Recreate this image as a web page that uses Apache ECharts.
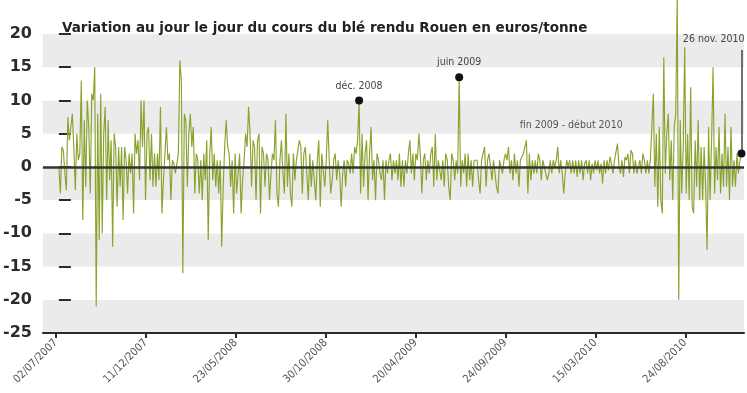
<!DOCTYPE html>
<html><head><meta charset="utf-8">
<script src="https://cdn.jsdelivr.net/npm/echarts@6/dist/echarts.min.js"></script>
<style>html,body{margin:0;padding:0;background:#fff}#c{width:747px;height:393px}</style>
</head><body><div id="c"></div>
<script>
const chartTitle = 'Variation au jour le jour du cours du blé rendu Rouen en euros/tonne';

const part1 = [
  0, -4, 3, 2.5, -1, -3.5, 7.5, 4, 6, 8,
  3, -3.5, 5, 1, 2, 13, -8, 7, -3, 10,
  6, -4, 11, 10, 15, -21, 8, -11, 11, -10,
  5, 9, -5, 7, -2, 4, -12, 5, 3, -6,
  3, -3, 3, -8, 3, 1, -4, 2, -1, 2,
  -7, 5, 2, 4, -2, 10, 3, 10, -5, 5,
  6, -2, 5, -3, 2, -3, 2, -2, 9, -7,
  -2, 2, 6, 1, 2, -5, 1, 0.5, -1, 0.5,
  2, 16, 13, -16, 8, 7, -3, 5, 8, 3,
  6, -4, 2, 1, -4, 1, -5, 2, -2, 4
];
const part2 = [
  -11, 2, 6, -2, 2, -3, 1, -4, 1, -12,
  -3, 3, 7, 3, 2, -3, 1, -7, 2, -4,
  -1, 2, -7, -2, 1, 5, 3, 9, 5, -3,
  4, 3, -5, 4, 5, -7, 3, 2, -3, 2,
  1, -5, -1, 2, 1, 7, -4, -6, 1, 4,
  -1, -4, 8, -3, 2, -4, -6, 2, -2, 1,
  1, 4, 3, -4, 2, 3, -1, -5, 2, -3,
  1, -2, -5, 1, 4, -6, 2, 2, -3, 1,
  7, 1, -4, -2, 1, 2, -2, 1, -1, -6,
  -1, 1, -3, 1, 0.5, -1, 2, -1, 3, 2
];
const part3 = [
  4, 10, -4, 5, -3, 2, 4, -5, 2, 6,
  -2, 1, -5, 2, 1, -1, -2, 1, -5, 1,
  -1, 1, 2, -2, 1, -1, 1, -2, 2, -3,
  1, -3, 1, -1, 2, 4, -1, 2, -2, 2,
  1, 5, 2, -4, 1, 2, -2, 1, -1, 2,
  3, -3, 5, -2, 1, 1, -2, 1, -3, 2,
  1, -3, -5, 2, 1, -2, 1, -1, 13.5, -3,
  1, -1, 2, -3, 2, -2, 1, -3, 1, 1,
  1, -2, -4, 1, 1, 3, -3, 1, 2, 2,
  -2, 1, -1, -3, -4, 1, 0, -1, 1, 2
];
const part4 = [
  1, 3, -1, 1, -2, 2, -1, 1, -3, 1,
  1, 2, 3, 4, -4, 2, -2, 1, -1, 1,
  -1, 2, 1, -2, 1, 1, -1, -2, -1, 1,
  -1, 1, 0, 1, 3, -1, 1, -1, -4, -1,
  1, 0, 1, -1, 1, -1, 1, -1.5, 1, -1,
  1, -2, 0.5, 1, -1, 1, -2, 0.5, -1, 1,
  -0.5, 1, -1, 0.5, -2.5, 1, -1, 1, -0.5, 1.5,
  0.5, -1, 1, 1, 3.5, 0, -1, 1, -1.5, 1.5,
  1, 2, -1, 2.5, 2, -1, 1, -1, 0, 1,
  -1, 2, 1, -1, 1, -1, 1, 1, 11, -3
];
const part5 = [
  5, -6, 6, -5, -7, 16.5, -1, 5, 8, -2,
  4, -5, 6, 8, 26, -20, 7, -4, 3, 18,
  -4, 5, -5, 12, -6, -7, 4, -3, 7, -5,
  3, -5, 3, -3, -12.5, 6, -5, 4, 15, -4,
  3, -2, 6, -4, 2, -3, 8, -3, 3, -5,
  6, -3, 1, -3, 2, -1, 1, 2
];
const values = part1.concat(part2, part3, part4, part5);

// x-axis tick labels and the observation positions they fall on
const tickLabels = ['02/07/2007', '11/12/2007', '23/05/2008', '30/10/2008', '20/04/2009', '24/09/2009', '15/03/2010', '24/08/2010'];
const tickIndex = [-2, 58.2, 118.4, 178.6, 238.8, 299, 359.2, 419.4];

// annotated observations
const noteIndex = [201, 268];
const noteText = ['déc. 2008', 'juin 2009'];
const lastIndex = values.length - 1;
const lastText = '26 nov. 2010';
const periodText = 'fin 2009 - début 2010';

const condensed = "'Liberation Sans Narrow', 'DejaVu Sans Condensed', 'Roboto Condensed', sans-serif";
const labelStyle = { fontFamily: condensed, fontSize: 10.5, color: '#444' };

const chart = echarts.init(document.getElementById('c'), null, { renderer: 'canvas' });

const markPoints = noteIndex.map((idx, k) => ({
  coord: [idx, values[idx]],
  symbol: 'circle', symbolSize: 8,
  itemStyle: { color: '#111' },
  label: Object.assign({ show: true, position: 'top', distance: 5, formatter: noteText[k] }, labelStyle)
}));
markPoints.push({
  coord: [lastIndex, values[lastIndex]],
  symbol: 'circle', symbolSize: 8,
  itemStyle: { color: '#111' },
  label: { show: false }
});
markPoints.push({
  coord: [lastIndex, 17.6],
  symbol: 'circle', symbolSize: 0,
  label: Object.assign({ show: true, position: 'top', distance: 5, align: 'right', offset: [3, 0], formatter: lastText }, labelStyle)
});
markPoints.push({
  coord: [343, 6.3],
  symbol: 'circle', symbolSize: 0,
  label: Object.assign({ show: true, position: 'inside', formatter: periodText }, labelStyle, { color: '#555' })
});

chart.setOption({
  animation: false,
  backgroundColor: '#ffffff',
  title: {
    text: chartTitle, left: 62, top: 21, padding: 0,
    textStyle: { fontFamily: 'DejaVu Sans', fontSize: 13.5, fontWeight: 'bold', color: '#222' }
  },
  grid: { left: 41, right: 3, top: 34, bottom: 60, containLabel: false },
  xAxis: {
    type: 'value', min: -10.7, max: 458.7,
    splitLine: { show: false },
    axisLine: { show: true, onZero: false, lineStyle: { color: '#2b2b2b', width: 2 } },
    axisTick: { show: true, customValues: tickIndex, length: 5, lineStyle: { color: '#2b2b2b', width: 2 } },
    axisLabel: {
      customValues: tickIndex, rotate: 45, margin: 8,
      fontFamily: condensed, fontSize: 11, color: '#555',
      formatter: function (v) {
        let best = 0;
        tickIndex.forEach((t, k) => { if (Math.abs(t - v) < Math.abs(tickIndex[best] - v)) best = k; });
        return tickLabels[best];
      }
    }
  },
  yAxis: {
    type: 'value', min: -25, max: 20, interval: 5,
    axisLine: { show: false },
    axisTick: { show: true, inside: true, length: 12, lineStyle: { color: '#2b2b2b', width: 2 } },
    splitLine: { show: false },
    splitArea: { show: true, areaStyle: { color: ['#ebebeb', '#ffffff'] } },
    axisLabel: { margin: 11, fontFamily: 'DejaVu Sans', fontSize: 16, fontWeight: 'bold', color: '#2b2b2b' }
  },
  series: [{
    type: 'line',
    data: values.map((v, i) => [i, v]),
    showSymbol: false, symbol: 'none',
    clip: false,
    lineStyle: { color: '#8aa32f', width: 1.15 },
    z: 2,
    markLine: {
      silent: true, symbol: 'none', animation: false,
      data: [
        { yAxis: 0, lineStyle: { color: '#333', width: 2.5, type: 'solid' }, label: { show: false } },
        [
          { coord: [lastIndex, values[lastIndex]], lineStyle: { color: '#444', width: 1.5, type: 'solid' }, label: { show: false } },
          { coord: [lastIndex, 17.6] }
        ]
      ]
    },
    markPoint: { silent: true, animation: false, data: markPoints }
  }]
});
</script>
</body></html>
